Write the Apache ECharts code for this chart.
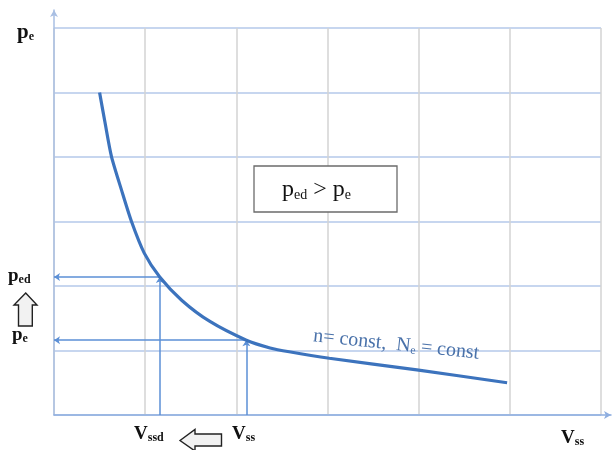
<!DOCTYPE html>
<html><head><meta charset="utf-8">
<script src="https://cdn.jsdelivr.net/npm/echarts@6/dist/echarts.min.js"></script>
<style>html,body{margin:0;padding:0;background:#fff}#c{width:612px;height:450px}</style>
</head><body><div id="c"></div>
<script>
// Curve: n = const, Ne = const (grid units)
const curveX = [0.50, 0.56, 0.63, 0.74, 0.85, 0.99, 1.16, 1.40, 1.71, 2.11, 2.37, 2.58, 3.02, 3.98, 4.97];
const curveY = [5.00, 4.53, 4.01, 3.49, 3.00, 2.51, 2.14, 1.78, 1.45, 1.16, 1.04, 0.98, 0.88, 0.70, 0.50];
// Operating points: [Vssd, ped] and [Vss, pe]
const opX = [1.16, 2.11];
const opY = [2.14, 1.16];
const opNames = ['ped', 'pe'];
const xTicks = [0, 1, 2, 3, 4, 5, 6];
const yTicks = [0, 1, 2, 3, 4, 5, 6];

const F = 'Liberation Serif';
const chart = echarts.init(document.getElementById('c'), null, {renderer: 'canvas'});

const curveData = curveX.map((x, i) => [x, curveY[i]]);
const arrowLines = [];
opX.forEach((x, i) => {
  arrowLines.push({coords: [[x, opY[i]], [0, opY[i]]]});
  arrowLines.push({coords: [[x, 0], [x, opY[i]]]});
});

function label(txt, sub, size, subSize, color, bold) {
  return {text: '{a|' + txt + '}{b|' + sub + '}', rich: {
    a: {fontFamily: F, fontWeight: bold ? 'bold' : 'normal', fontSize: size, fill: color, lineHeight: size + 1, verticalAlign: 'bottom'},
    b: {fontFamily: F, fontWeight: bold ? 'bold' : 'normal', fontSize: subSize, fill: color, lineHeight: 8, verticalAlign: 'bottom'}}};
}

const option = {
  animation: false,
  backgroundColor: '#fff',
  grid: [
    {left: 54, top: 28, width: 547, height: 387},
    {left: 54, top: 10, width: 557, height: 405}
  ],
  xAxis: [
    {type: 'value', gridIndex: 0, min: xTicks[0], max: xTicks[xTicks.length - 1], interval: 1,
     axisLine: {show: false}, axisTick: {show: false}, axisLabel: {show: false},
     splitLine: {show: true, lineStyle: {color: '#d3d3d3', width: 1.5}}},
    {type: 'value', gridIndex: 1, min: 0, max: 1,
     axisLine: {show: true, symbol: ['none', 'arrow'], symbolSize: [6, 7], lineStyle: {color: '#8eaee0', width: 1.5}},
     axisTick: {show: false}, axisLabel: {show: false}, splitLine: {show: false}}
  ],
  yAxis: [
    {type: 'value', gridIndex: 0, min: yTicks[0], max: yTicks[yTicks.length - 1], interval: 1,
     axisLine: {show: false}, axisTick: {show: false}, axisLabel: {show: false},
     splitLine: {show: true, lineStyle: {color: '#b4c8ea', width: 1.5}}},
    {type: 'value', gridIndex: 1, min: 0, max: 1,
     axisLine: {show: true, symbol: ['none', 'arrow'], symbolSize: [6, 7], lineStyle: {color: '#a9bfe3', width: 1.5}},
     axisTick: {show: false}, axisLabel: {show: false}, splitLine: {show: false}}
  ],
  series: [
    {type: 'lines', coordinateSystem: 'cartesian2d', xAxisIndex: 0, yAxisIndex: 0,
     polyline: false, symbol: ['none', 'arrow'], symbolSize: 6,
     lineStyle: {color: '#5b8fd6', width: 1.5, opacity: 1},
     data: arrowLines, z: 3},
    {type: 'line', xAxisIndex: 0, yAxisIndex: 0, data: curveData, smooth: 0.25,
     showSymbol: false, lineStyle: {color: '#3c73bd', width: 3.2}, z: 4}
  ],
  graphic: [
    {type: 'text', x: 17, y: 21, style: label('p', 'e', 21, 12, '#111', true)},
    {type: 'text', x: 8, y: 266, style: label('p', 'ed', 19, 12, '#111', true)},
    {type: 'text', x: 12, y: 325, style: label('p', 'e', 19, 12, '#111', true)},
    {type: 'polygon', shape: {points: [[25.7, 293], [37, 305], [32.3, 305], [32.3, 326], [18.5, 326], [18.5, 305], [14, 305]]},
     style: {fill: '#f2f2f2', stroke: '#222', lineWidth: 1.4}},
    {type: 'text', x: 134, y: 424, style: label('V', 'ssd', 19, 12, '#111', true)},
    {type: 'polygon', shape: {points: [[180, 440.5], [195, 429.5], [195, 434], [221.5, 434], [221.5, 446], [195, 446], [195, 451]]},
     style: {fill: '#f2f2f2', stroke: '#222', lineWidth: 1.4}},
    {type: 'text', x: 232, y: 424, style: label('V', 'ss', 19, 12, '#111', true)},
    {type: 'text', x: 561, y: 428, style: label('V', 'ss', 19, 12, '#111', true)},
    {type: 'rect', shape: {x: 254, y: 166, width: 143, height: 46}, style: {fill: '#fff', stroke: '#6b6b6b', lineWidth: 1.3}, z: 10},
    {type: 'text', x: 282, y: 178, z: 11, style: {text: '{a|p}{b|ed}{a| > p}{b|e}', rich: {
      a: {fontFamily: F, fontSize: 24, fill: '#111', lineHeight: 24, verticalAlign: 'bottom'},
      b: {fontFamily: F, fontSize: 14, fill: '#111', lineHeight: 8, verticalAlign: 'bottom'}}}},
    {type: 'text', x: 313, y: 325, rotation: -0.105, originX: 0, originY: 14, z: 5,
     style: {text: '{a|n= const,  N}{b|e}{a| = const}', rich: {
      a: {fontFamily: F, fontSize: 20, fill: '#4a72aa', lineHeight: 21, verticalAlign: 'bottom'},
      b: {fontFamily: F, fontSize: 12, fill: '#4a72aa', lineHeight: 8, verticalAlign: 'bottom'}}}}
  ]
};
chart.setOption(option);
</script></body></html>
